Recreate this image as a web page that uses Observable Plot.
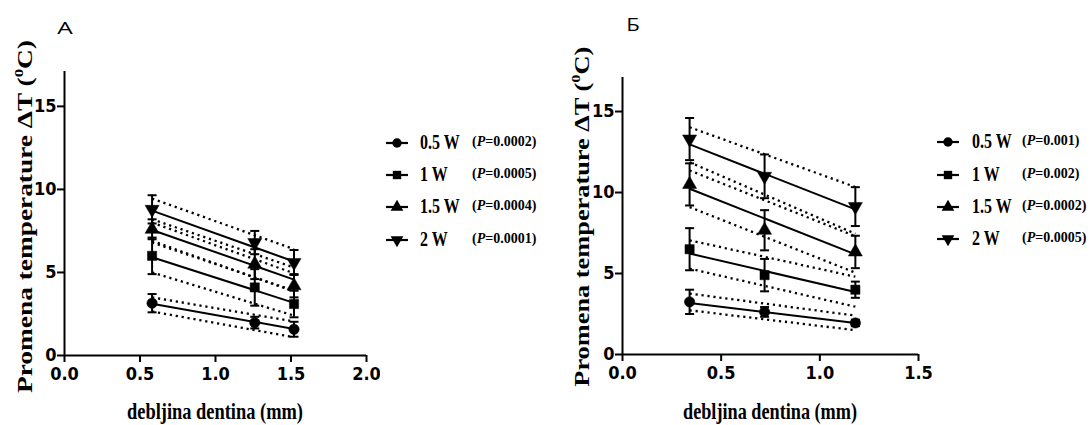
<!DOCTYPE html>
<html>
<head>
<meta charset="utf-8">
<script src="https://cdn.jsdelivr.net/npm/d3@7"></script>
<script src="https://cdn.jsdelivr.net/npm/@observablehq/plot@0.6"></script>
<style>
  html, body { margin: 0; padding: 0; background: #fff; }
  #chart { position: relative; width: 1092px; height: 425px; background: #fff; overflow: hidden; }
  .panel { position: absolute; top: 0; }
  .lg { position: absolute; white-space: nowrap; color: #000; line-height: 1; }
  .lg-label { font-family: "Liberation Serif", "Times New Roman", serif; font-weight: bold; font-size: 21px; display: inline-block; transform: scaleX(0.76); transform-origin: left center; }
  .lg-p { font-family: "Liberation Serif", "Times New Roman", serif; font-weight: bold; font-size: 14px; }
</style>
</head>
<body>
<div id="chart"></div>
<script>
// ---------- data ----------
const seriesLabels = ["0.5 W", "1 W", "1.5 W", "2 W"];
const markerSymbols = ["circle", "square", "triangle", "triangle"];
const markerRotations = [0, 0, 0, 180];
const yTicks = [0, 5, 10, 15];

// Panel A
const xA = [0.58, 1.26, 1.52];
const xTicksA = [0, 0.5, 1.0, 1.5, 2.0];
const meansA = [
  [3.15, 1.98, 1.58],
  [6.0, 4.1, 3.1],
  [7.6, 5.5, 4.2],
  [8.8, 6.8, 5.6]
];
const sdsA = [
  [0.55, 0.35, 0.45],
  [1.1, 1.1, 0.8],
  [0.6, 0.9, 0.7],
  [0.85, 0.7, 0.75]
];
const fitStartA = [3.11, 5.92, 7.56, 8.72];
const fitEndA = [1.6, 3.17, 4.57, 5.66];
const upperStartA = [3.5, 6.8, 8.2, 9.45];
const upperEndA = [2.05, 3.9, 5.3, 6.4];
const lowerStartA = [2.65, 5.0, 6.9, 8.0];
const lowerEndA = [1.1, 2.4, 3.85, 4.95];
const pValuesA = ["0.0002", "0.0005", "0.0004", "0.0001"];

// Panel B
const xB = [0.34, 0.72, 1.18];
const xTicksB = [0, 0.5, 1.0, 1.5];
const meansB = [
  [3.25, 2.63, 1.95],
  [6.5, 4.9, 4.0],
  [10.5, 7.67, 6.33],
  [13.3, 11.0, 9.13]
];
const sdsB = [
  [0.75, 0.3, 0.2],
  [1.3, 1.0, 0.5],
  [1.3, 1.24, 1.0],
  [1.3, 1.35, 1.2]
];
const fitStartB = [3.18, 6.23, 10.23, 12.97];
const fitEndB = [1.95, 3.86, 6.18, 8.96];
const upperStartB = [3.76, 7.05, 11.36, 14.03];
const upperEndB = [2.4, 4.8, 7.3, 10.34];
const lowerStartB = [2.73, 5.3, 9.1, 11.87];
const lowerEndB = [1.5, 2.95, 5.05, 7.46];
const pValuesB = ["0.001", "0.002", "0.0002", "0.0005"];

const yTitle = "Promena temperature \u0394T (";
const xTitle = "debljina dentina (mm)";

// ---------- drawing ----------
const capSymbol = {
  draw(context, size) {
    const w = Math.sqrt(size / Math.PI);
    context.moveTo(-w, 0);
    context.lineTo(w, 0);
  }
};

const tickFont = "'Liberation Sans Narrow', 'Arial Narrow', 'DejaVu Sans Condensed', sans-serif";

function makePanel(cfg) {
  const pts = [];
  seriesLabels.forEach((s, i) => cfg.xs.forEach((x, j) => pts.push({i, x, y: cfg.means[i][j], sd: cfg.sds[i][j]})));
  const x1 = cfg.xs[0], x2 = cfg.xs[cfg.xs.length - 1];
  const fits = seriesLabels.map((s, i) => ({x1, x2, y1: cfg.fitStart[i], y2: cfg.fitEnd[i]}));
  const bands = seriesLabels.flatMap((s, i) => [
    {x1, x2, y1: cfg.upperStart[i], y2: cfg.upperEnd[i]},
    {x1, x2, y1: cfg.lowerStart[i], y2: cfg.lowerEnd[i]}
  ]);
  const dotMarks = seriesLabels.map((s, i) =>
    Plot.dot(pts.filter(d => d.i === i), {
      x: "x", y: "y", symbol: markerSymbols[i], rotate: markerRotations[i],
      fill: "black", stroke: "black", strokeWidth: 0.5, r: 5.2
    })
  );
  const svg = Plot.plot({
    width: cfg.width, height: 425,
    marginLeft: cfg.marginLeft, marginRight: cfg.marginRight,
    marginTop: cfg.marginTop, marginBottom: cfg.marginBottom,
    x: {domain: [0, cfg.xMax]},
    y: {domain: [0, 17.1]},
    style: {background: "transparent", color: "black"},
    marks: [
      Plot.link(bands, {x1: "x1", y1: "y1", x2: "x2", y2: "y2", stroke: "black", strokeWidth: 2.3, strokeDasharray: "2.2,3.8"}),
      Plot.link(fits, {x1: "x1", y1: "y1", x2: "x2", y2: "y2", stroke: "black", strokeWidth: 2}),
      Plot.ruleX(pts, {x: "x", y1: d => d.y - d.sd, y2: d => d.y + d.sd, stroke: "black", strokeWidth: 2}),
      Plot.dot(pts, {x: "x", y: d => d.y + d.sd, symbol: capSymbol, r: 4.5, stroke: "black", strokeWidth: 2}),
      Plot.dot(pts, {x: "x", y: d => d.y - d.sd, symbol: capSymbol, r: 4.5, stroke: "black", strokeWidth: 2}),
      ...dotMarks,
      Plot.ruleY([0], {stroke: "black", strokeWidth: 2}),
      Plot.ruleX([0], {stroke: "black", strokeWidth: 2}),
      Plot.axisX({ticks: cfg.xTicks, tickFormat: d3.format(".1f"), tickSize: 7, tickPadding: 5, strokeWidth: 2,
        fontSize: 18, fontWeight: "bold", fontFamily: tickFont, label: null}),
      Plot.axisY({ticks: yTicks, tickFormat: d3.format("d"), tickSize: 7, tickPadding: 1, strokeWidth: 2,
        fontSize: 18, fontWeight: "bold", fontFamily: tickFont, label: null})
    ]
  });
  const g = d3.select(svg);
  // panel letter
  g.append("text").attr("x", cfg.letterX).attr("y", cfg.letterY)
    .attr("font-family", "'Open Sans', 'DejaVu Sans', sans-serif").attr("font-size", cfg.letterSize)
    .attr("textLength", cfg.letterLen).attr("lengthAdjust", "spacingAndGlyphs")
    .attr("fill", "black").text(cfg.letter);
  // y title
  const yt = g.append("text")
    .attr("transform", `translate(${cfg.yTitleX},${cfg.yTitleY}) rotate(-90)`)
    .attr("text-anchor", "middle").attr("dominant-baseline", "central")
    .attr("font-family", "'Liberation Serif', 'Times New Roman', serif")
    .attr("font-weight", "bold").attr("font-size", 21).attr("fill", "black")
    .attr("textLength", cfg.yTitleLen).attr("lengthAdjust", "spacingAndGlyphs");
  yt.append("tspan").text(yTitle);
  yt.append("tspan").attr("dy", -7).attr("font-size", 13).text("0");
  yt.append("tspan").attr("dy", 7).text("C)");
  // x title
  g.append("text").attr("x", cfg.xTitleX).attr("y", 418.5)
    .attr("text-anchor", "middle")
    .attr("font-family", "'Liberation Serif', 'Times New Roman', serif")
    .attr("font-weight", "bold").attr("font-size", 24).attr("fill", "black")
    .attr("textLength", cfg.xTitleLen).attr("lengthAdjust", "spacingAndGlyphs")
    .text(xTitle);
  svg.classList.add("panel");
  svg.style.left = cfg.left + "px";
  return svg;
}

const chart = document.getElementById("chart");

chart.appendChild(makePanel({
  xs: xA, means: meansA, sds: sdsA, fitStart: fitStartA, fitEnd: fitEndA,
  upperStart: upperStartA, upperEnd: upperEndA, lowerStart: lowerStartA, lowerEnd: lowerEndA,
  xTicks: xTicksA, xMax: 2.0,
  left: 0, width: 380, marginLeft: 64, marginRight: 14, marginTop: 71, marginBottom: 70,
  letter: "A", letterX: 65, letterY: 33.5, letterSize: 16, letterLen: 15.5,
  yTitleX: 25, yTitleY: 216.5, yTitleLen: 353,
  xTitleX: 215, xTitleLen: 176
}));

chart.appendChild(makePanel({
  xs: xB, means: meansB, sds: sdsB, fitStart: fitStartB, fitEnd: fitEndB,
  upperStart: upperStartB, upperEnd: upperEndB, lowerStart: lowerStartB, lowerEnd: lowerEndB,
  xTicks: xTicksB, xMax: 1.5,
  left: 540, width: 400, marginLeft: 82, marginRight: 22, marginTop: 77, marginBottom: 71,
  letter: "\u0411", letterX: 93, letterY: 30.5, letterSize: 18, letterLen: 13.5,
  yTitleX: 42, yTitleY: 216.7, yTitleLen: 340,
  xTitleX: 230, xTitleLen: 174
}));

// ---------- legends ----------
const d3Symbols = {circle: d3.symbolCircle, square: d3.symbolSquare, triangle: d3.symbolTriangle};
function addLegend(lineX, labelX, pX, rowYs, pValues) {
  seriesLabels.forEach((lab, i) => {
    const cy = rowYs[i];
    const sym = document.createElementNS("http://www.w3.org/2000/svg", "svg");
    sym.setAttribute("width", 24); sym.setAttribute("height", 16);
    sym.style.position = "absolute"; sym.style.left = lineX + "px"; sym.style.top = (cy - 8) + "px";
    const s = d3.select(sym);
    s.append("line").attr("x1", 0).attr("x2", 22).attr("y1", 8).attr("y2", 8).attr("stroke", "black").attr("stroke-width", 2.2);
    s.append("path").attr("d", d3.symbol(d3Symbols[markerSymbols[i]], 70)())
      .attr("transform", `translate(11,8) rotate(${markerRotations[i]})`).attr("fill", "black");
    chart.appendChild(sym);
    const l = document.createElement("div");
    l.className = "lg"; l.style.left = labelX + "px"; l.style.top = (cy - 11) + "px";
    l.innerHTML = `<span class="lg-label">${lab}</span>`;
    chart.appendChild(l);
    const p = document.createElement("div");
    p.className = "lg lg-p"; p.style.left = pX + "px"; p.style.top = (cy - 8) + "px";
    p.innerHTML = `(<i>P</i>=${pValues[i]})`;
    chart.appendChild(p);
  });
}
addLegend(386, 420, 472, [143, 175, 207, 240], pValuesA);
addLegend(937, 972, 1022, [142, 175, 207, 239], pValuesB);
</script>
</body>
</html>
